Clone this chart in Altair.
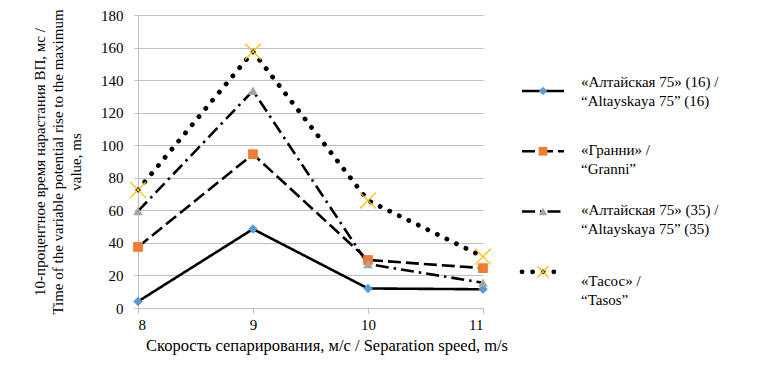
import altair as alt
import pandas as pd

speeds = [8, 9, 10, 11]
altayskaya16 = [4, 48.5, 12, 11.5]
granni = [37.5, 94.5, 29.5, 24.5]
altayskaya35 = [59.5, 133.5, 27, 15.5]
tasos = [72.5, 157.5, 66, 31.5]

series_names = ["alt16", "granni", "alt35", "tasos"]
series_labels = [
    "«Алтайская 75» (16) /\n“Altayskaya 75” (16)",
    "«Гранни» /\n “Granni”",
    "«Алтайская 75» (35) /\n“Altayskaya 75” (35)",
    "«Тасос» /\n “Tasos”",
]
series_values = [altayskaya16, granni, altayskaya35, tasos]

FONT = "Liberation Serif"
X_PATH = "M-1,-1L1,1M-1,1L1,-1"

styles = {
    "alt16": dict(dash=[1, 0], width=2.6, shape="diamond", color="#5B9BD5", size=90, filled=True, cap="butt", dy=-9),
    "granni": dict(dash=[13, 5], width=2.6, shape="square", color="#ED7D31", size=95, filled=True, cap="butt", dy=-1),
    "alt35": dict(dash=[13, 5, 2.5, 5], width=2.6, shape="triangle-up", color="#A5A5A5", size=95, filled=True, cap="butt", dy=-2),
    "tasos": dict(dash=[0.1, 10.5], width=4.8, shape=X_PATH, color="#FFC000", size=250, filled=False, cap="round", dy=9),
}

rows = []
for name, vals in zip(series_names, series_values):
    for s, v in zip(speeds, vals):
        rows.append({"series": name, "speed": s, "value": v})
df = pd.DataFrame(rows)

leg = pd.DataFrame({"series": series_names, "label": series_labels, "lorder": list(range(len(series_names)))})

W, H = 345, 293

xenc = alt.X(
    "speed:Q",
    scale=alt.Scale(domain=[8, 11], nice=False, zero=False),
    axis=alt.Axis(
        values=speeds, format="d", grid=False, domainColor="#BFBFBF", tickColor="#BFBFBF",
        tickSize=5, labelFont=FONT, labelFontSize=15, labelColor="#000", labelPadding=4,
        title="Скорость сепарирования, м/с / Separation speed, m/s", titleFont=FONT,
        titleFontSize=16.5, titleFontWeight="normal", titleColor="#000", titlePadding=5,
        titleX=W / 2 + 16,
    ),
)
yenc = alt.Y(
    "value:Q",
    scale=alt.Scale(domain=[0, 180], nice=False),
    axis=alt.Axis(
        values=list(range(0, 181, 20)), grid=True, gridColor="#BFBFBF", gridWidth=1.2,
        domainColor="#BFBFBF", tickColor="#BFBFBF", tickSize=4, labelFont=FONT,
        labelFontSize=15, labelColor="#000", labelPadding=11,
        title=["10-процентное  время нарастания ВП, мс /",
               "Time of the variable potential rise to the maximum", "value, ms"],
        titleFont=FONT, titleFontSize=15, titleFontWeight="normal", titleColor="#000",
        titlePadding=17, titleLineHeight=18,
    ),
)

base = alt.Chart(df)
main_layers = []
for name in series_names:
    st = styles[name]
    main_layers.append(
        base.transform_filter(alt.datum.series == name)
        .mark_line(color="black", strokeWidth=st["width"], strokeDash=st["dash"], strokeCap=st["cap"])
        .encode(x=xenc, y=yenc)
    )
for name in series_names:
    st = styles[name]
    if st["filled"]:
        pm = base.transform_filter(alt.datum.series == name).mark_point(
            shape=st["shape"], size=st["size"], filled=True, fill=st["color"], color=st["color"], opacity=1)
    else:
        pm = base.transform_filter(alt.datum.series == name).mark_point(
            shape=st["shape"], size=st["size"], filled=False, stroke=st["color"], strokeWidth=1.3, opacity=1)
    main_layers.append(pm.encode(x=xenc, y=yenc))
main = alt.layer(*main_layers)

lyenc = alt.Y("lorder:Q", scale=alt.Scale(domain=[-1.26, 3.6], reverse=True, nice=False, zero=False), axis=None)
lbase = alt.Chart(leg)
leg_layers = []
for name in series_names:
    st = styles[name]
    f = lbase.transform_filter(alt.datum.series == name)
    leg_layers.append(
        f.mark_rule(color="black", strokeWidth=st["width"], strokeDash=st["dash"], strokeCap=st["cap"])
        .encode(x=alt.value(W + 39), x2=alt.value(W + 81), y=lyenc)
    )
    if st["filled"]:
        pm = f.mark_point(shape=st["shape"], size=st["size"] * 0.8, filled=True, fill=st["color"], color=st["color"], opacity=1)
    else:
        pm = f.mark_point(shape=st["shape"], size=st["size"] * 0.5, filled=False, stroke=st["color"], strokeWidth=1.3, opacity=1)
    leg_layers.append(pm.encode(x=alt.value(W + 60), y=lyenc))
    leg_layers.append(
        f.mark_text(align="left", baseline="middle", font=FONT, fontSize=15, color="#000",
                    lineBreak="\n", lineHeight=19, dy=st["dy"])
        .encode(x=alt.value(W + 98), y=lyenc, text="label:N")
    )
legend = alt.layer(*leg_layers)

chart = (
    alt.layer(main, legend)
    .resolve_scale(y="independent")
    .properties(width=W, height=H, padding={"left": 24, "top": 0, "right": 5, "bottom": 5}, background="white")
    .configure(font=FONT)
    .configure_view(stroke=None)
)

chart.save("out.html", embed_options={"renderer": "svg", "actions": False})
